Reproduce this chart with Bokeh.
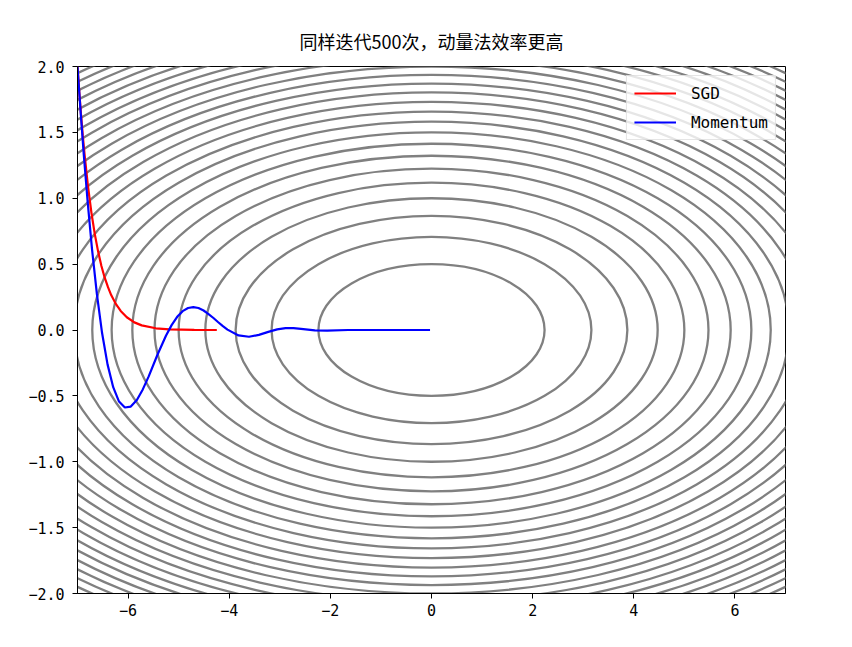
from bokeh.plotting import figure
from bokeh.models import Range1d, FixedTicker, CustomJSTickFormatter
from bokeh.embed import file_html
from bokeh.resources import INLINE

# contour ellipses of f = x^2/20 + y^2 (semi-axes along x and y), one per level
contour_a = [2.236, 3.162, 3.873, 4.472, 5.000, 5.477, 5.916, 6.325, 6.708,
             7.071, 7.416, 7.746, 8.062, 8.367, 8.660, 8.944, 9.220, 9.487,
             9.747, 10.000, 10.247, 10.488, 10.724, 10.954, 11.180]
contour_b = [0.500, 0.707, 0.866, 1.000, 1.118, 1.225, 1.323, 1.414, 1.500,
             1.581, 1.658, 1.732, 1.803, 1.871, 1.936, 2.000, 2.062, 2.121,
             2.179, 2.236, 2.291, 2.345, 2.398, 2.449, 2.500]

# SGD path
sgd_x = [-7.000, -6.965, -6.930, -6.896, -6.861, -6.793, -6.725, -6.658,
         -6.592, -6.527, -6.462, -6.397, -6.334, -6.239, -6.146, -6.025,
         -5.876, -5.731, -5.451, -5.185, -4.691, -4.245]
sgd_y = [2.000, 1.808, 1.634, 1.477, 1.335, 1.091, 0.891, 0.728,
         0.595, 0.486, 0.397, 0.325, 0.265, 0.196, 0.145, 0.097,
         0.058, 0.035, 0.013, 0.005, 0.001, 0.000]

# Momentum path
mom_x = [-7.000, -6.980, -6.937, -6.876, -6.800, -6.713, -6.617, -6.514,
         -6.406, -6.294, -6.179, -6.063, -5.946, -5.826, -5.709, -5.592,
         -5.421, -5.251, -5.139, -5.029, -4.921, -4.814, -4.710, -4.608,
         -4.507, -4.409, -4.312, -4.217, -4.125, -4.034, -3.816, -3.609,
         -3.413, -3.227, -3.052, -2.886, -2.729, -2.580, -2.307, -2.063,
         -1.649, -1.319, -0.843, -0.482, -0.275, -0.090, -0.029]
mom_y = [2.000, 1.885, 1.649, 1.333, 0.976, 0.614, 0.274, -0.023,
         -0.261, -0.434, -0.543, -0.588, -0.581, -0.531, -0.451, -0.352,
         -0.190, -0.044, 0.037, 0.100, 0.143, 0.167, 0.174, 0.167,
         0.148, 0.121, 0.091, 0.059, 0.029, 0.003, -0.041, -0.051,
         -0.037, -0.014, 0.005, 0.014, 0.014, 0.008, -0.003, -0.004,
         0.000, 0.000, 0.000, 0.000, 0.000, 0.000, 0.000]

x_ticks = [-6, -4, -2, 0, 2, 4, 6]
y_ticks = [-2.0, -1.5, -1.0, -0.5, 0.0, 0.5, 1.0, 1.5, 2.0]

p = figure(frame_width=708, frame_height=527,
           x_range=Range1d(-7, 7), y_range=Range1d(-2, 2),
           min_border_left=77, min_border_top=66,
           min_border_right=50, min_border_bottom=45,
           title="同样迭代500次，动量法效率更高",
           output_backend="svg", toolbar_location=None)

p.grid.visible = False
p.background_fill_color = "white"
p.border_fill_color = "white"
p.outline_line_color = "black"
p.outline_line_alpha = 1.0
p.outline_line_width = 1

# title
p.title.align = "center"
p.title.text_font = "Noto Sans CJK SC"
p.title.text_font_size = "18px"
p.title.text_font_style = "normal"
p.title.text_color = "black"
p.title.standoff = 25

# contours
p.ellipse(x=0, y=0,
          width=[2 * a for a in contour_a],
          height=[2 * b for b in contour_b],
          fill_color=None, line_color="gray", line_width=2.3)

# paths
p.line(sgd_x, sgd_y, line_color="red", line_width=2.2, legend_label="SGD")
p.line(mom_x, mom_y, line_color="blue", line_width=2.2, legend_label="Momentum")

# axes
p.xaxis.ticker = FixedTicker(ticks=x_ticks)
p.yaxis.ticker = FixedTicker(ticks=y_ticks)
p.xaxis.formatter = CustomJSTickFormatter(
    code="return tick.toFixed(0).replace('-', '\u2212');")
p.yaxis.formatter = CustomJSTickFormatter(
    code="return tick.toFixed(1).replace('-', '\u2212');")
for ax in [p.xaxis, p.yaxis]:
    ax.axis_line_color = "black"
    ax.major_tick_line_color = "black"
    ax.major_tick_out = 5
    ax.major_tick_in = 0
    ax.minor_tick_out = 0
    ax.minor_tick_in = 0
    ax.major_label_text_font = "DejaVu Sans Mono"
    ax.major_label_text_font_size = "15px"
    ax.major_label_text_color = "black"
p.yaxis.major_label_standoff = 8
p.xaxis.major_label_standoff = 5

# legend
p.legend.location = "top_right"
p.legend.margin = 9
p.legend.padding = 7
p.legend.spacing = 9
p.legend.glyph_width = 42
p.legend.glyph_height = 20
p.legend.label_height = 20
p.legend.label_standoff = 15
p.legend.label_text_font = "DejaVu Sans Mono"
p.legend.label_text_font_size = "16px"
p.legend.label_text_color = "black"
p.legend.border_line_color = "#cccccc"
p.legend.background_fill_alpha = 0.8

open("out.html", "w").write(file_html(p, INLINE))
